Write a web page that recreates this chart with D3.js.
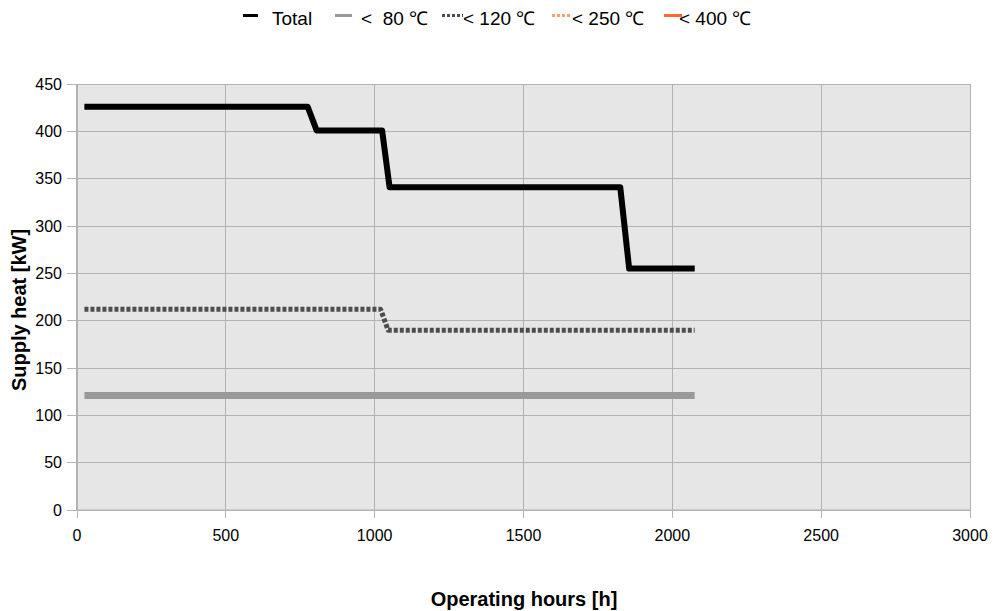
<!DOCTYPE html>
<html><head><meta charset="utf-8">
<script src="https://cdn.jsdelivr.net/npm/d3@7"></script>
<style>body{margin:0;background:#fff;}svg{display:block;font-family:"Liberation Sans",Arial,sans-serif;}</style>
</head><body>
<svg id="c" width="994" height="611"></svg>
<script>
const xTicks = [0, 500, 1000, 1500, 2000, 2500, 3000];
const yTicks = [0, 50, 100, 150, 200, 250, 300, 350, 400, 450];
const seriesNames = ["Total", "<  80 \u2103", "< 120 \u2103", "< 250 \u2103", "< 400 \u2103"];
const totalHours = [25, 775, 805, 1025, 1050, 1825, 1855, 2075];
const totalValues = [426, 426, 401, 401, 341, 341, 255, 255];
const t80Hours = [25, 2075];
const t80Values = [121, 121];
const t120Hours = [25, 1020, 1045, 2075];
const t120Values = [212, 212, 190, 190];
const t250Hours = [];
const t250Values = [];
const t400Hours = totalHours;
const t400Values = totalValues;

const svg = d3.select("#c");
const L = 77, R = 970, T = 84, B = 510;
const x = d3.scaleLinear().domain([0, 3000]).range([L, R]);
const y = d3.scaleLinear().domain([0, 450]).range([B, T]);
const grid = "#b3b3b3";

svg.append("rect").attr("x", L).attr("y", T).attr("width", R - L).attr("height", B - T).attr("fill", "#e6e6e6");

// grid
svg.append("g").selectAll("line").data(yTicks).join("line")
  .attr("x1", L - 10).attr("x2", R).attr("y1", d => y(d)).attr("y2", d => y(d))
  .attr("stroke", grid).attr("stroke-width", 1).attr("shape-rendering", "crispEdges");
svg.append("g").selectAll("line").data(xTicks).join("line")
  .attr("y1", T).attr("y2", B + 8).attr("x1", d => x(d)).attr("x2", d => x(d))
  .attr("stroke", grid).attr("stroke-width", 1).attr("shape-rendering", "crispEdges");
// axis lines
svg.append("line").attr("x1", L).attr("x2", L).attr("y1", T).attr("y2", B).attr("stroke", grid).attr("stroke-width", 2);
svg.append("line").attr("x1", L).attr("x2", R).attr("y1", B).attr("y2", B).attr("stroke", grid).attr("stroke-width", 1);

// tick labels
svg.append("g").selectAll("text").data(yTicks).join("text")
  .attr("x", L - 15).attr("y", d => y(d)).attr("dy", "0.35em").attr("text-anchor", "end")
  .attr("font-size", 16).attr("fill", "#000").text(d => d);
svg.append("g").selectAll("text").data(xTicks).join("text")
  .attr("x", d => x(d)).attr("y", B + 31).attr("text-anchor", "middle")
  .attr("font-size", 16).attr("fill", "#000").text(d => d);

// titles
svg.append("text").attr("transform", `translate(26,310) rotate(-90)`).attr("text-anchor", "middle")
  .attr("font-size", 20).attr("font-weight", "bold").text("Supply heat [kW]");
svg.append("text").attr("x", 524).attr("y", 606).attr("text-anchor", "middle")
  .attr("font-size", 20).attr("font-weight", "bold").text("Operating hours [h]");

const line = d3.line().x(d => x(d[0])).y(d => y(d[1]));
const zip = (h, v) => h.map((d, i) => [d, v[i]]);
const styles = [
  {color: "#000000", width: 6, dash: null},
  {color: "#999999", width: 7, dash: null},
  {color: "#4d4d4d", width: 5, dash: "4,2"},
  {color: "#ff9e73", width: 3, dash: "3,2"},
  {color: "#ff6633", width: 4, dash: null}
];
const data = [zip(totalHours, totalValues), zip(t80Hours, t80Values), zip(t120Hours, t120Values), zip(t250Hours, t250Values), zip(t400Hours, t400Values)];
const order = [4, 3, 1, 2, 0];
order.forEach(i => {
  if (!data[i].length) return;
  svg.append("path").datum(data[i]).attr("d", line).attr("fill", "none")
    .attr("stroke", styles[i].color).attr("stroke-width", styles[i].width)
    .attr("stroke-dasharray", styles[i].dash).attr("stroke-linejoin", "round");
});

// legend
const legX = [243, 335, 442, 552, 664];
const legW = [15, 17, 21, 20, 18];
const txtX = [272, 361, 463, 572, 679];
seriesNames.forEach((n, i) => {
  const g = svg.append("g");
  g.append("line").attr("x1", legX[i]).attr("x2", legX[i] + legW[i]).attr("y1", 15.5).attr("y2", 15.5)
    .attr("stroke", styles[i].color).attr("stroke-width", 3).attr("stroke-dasharray", styles[i].dash ? "3,2" : null);
  g.append("text").attr("x", txtX[i]).attr("y", 25).attr("font-size", 19)
    .attr("xml:space", "preserve").style("white-space", "pre").text(n);
});
</script>
</body></html>
